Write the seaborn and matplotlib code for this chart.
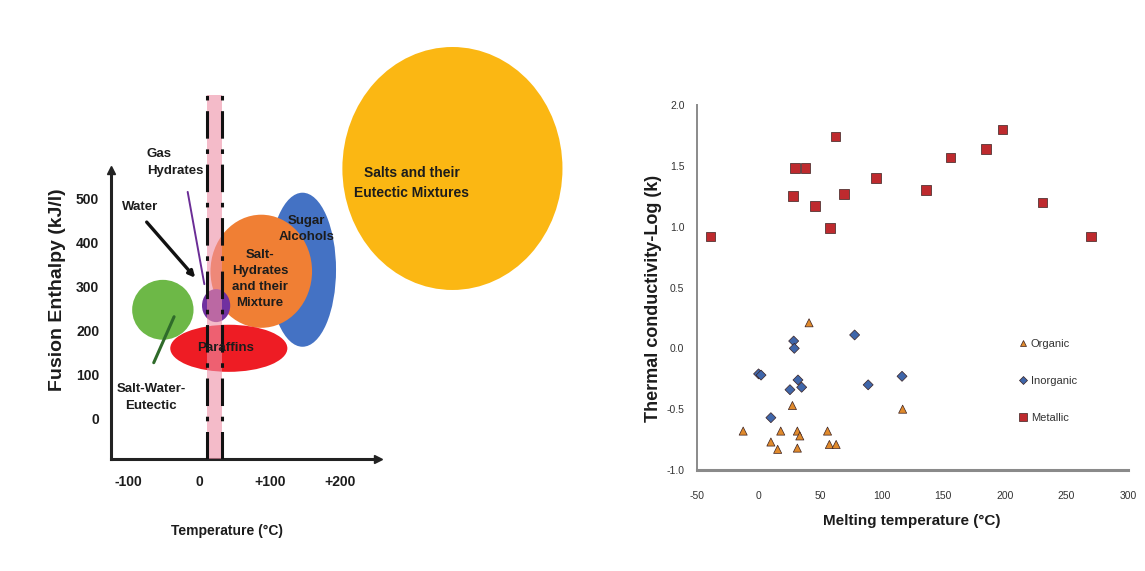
import numpy as np
import pandas as pd
import seaborn as sns
import matplotlib
matplotlib.use("Agg")
import matplotlib.pyplot as plt
from matplotlib.patches import Ellipse

# ---------------------------------------------------------------
# Left panel: PCM classes, temperature range (°C) x fusion enthalpy (kJ/l)
# ---------------------------------------------------------------
pcm_classes = ["Salts and their\nEutectic Mixtures", "Sugar\nAlcohols",
               "Salt-\nHydrates\nand their\nMixture", "Paraffins",
               "Salt-Water-\nEutectic", "Gas\nHydrates"]
pcm_temp_min = [203, 99, 16, -41, -95, 4]
pcm_temp_max = [515, 194, 160, 125, -8, 44]
pcm_enth_min = [293, 164, 207, 107, 180, 220]
pcm_enth_max = [845, 514, 464, 214, 316, 295]
pcm_colors = ["#FBB713", "#4472C4", "#F07F34", "#EE1C24", "#6DB847", "#7030A0"]

# comfort band (°C)
band_temp = [11, 32]

temp_ticks = [-100, 0, 100, 200]
temp_tick_labels = ["-100", "0", "+100", "+200"]
enth_ticks = [0, 100, 200, 300, 400, 500]

# ---------------------------------------------------------------
# Right panel: melting temperature (°C) vs log thermal conductivity
# ---------------------------------------------------------------
organic_T = [41, 27.5, 117, -12.5, 18, 10, 15.5, 31.5, 33.5, 31.5, 56, 57.5, 63]
organic_k = [0.21, -0.47, -0.50, -0.68, -0.68, -0.77, -0.83, -0.68, -0.72, -0.82, -0.68, -0.79, -0.79]
inorganic_T = [0, 2, 28.5, 29, 32, 35, 25.5, 10, 78, 89, 116.5]
inorganic_k = [-0.21, -0.22, 0.06, 0.00, -0.26, -0.32, -0.34, -0.57, 0.11, -0.30, -0.23]
metallic_T = [-39, 28, 29.5, 38, 46, 58, 62.5, 69.5, 95.5, 136, 156, 184.5, 198, 230.5, 270]
metallic_k = [0.92, 1.25, 1.48, 1.48, 1.17, 0.99, 1.74, 1.27, 1.40, 1.30, 1.57, 1.64, 1.80, 1.20, 0.92]

groups = ["Organic", "Inorganic", "Metallic"]
group_colors = {"Organic": "#E08A2C", "Inorganic": "#3F66AA", "Metallic": "#BE2A2E"}
group_markers = {"Organic": "^", "Inorganic": "D", "Metallic": "s"}
group_sizes = {"Organic": 34, "Inorganic": 26, "Metallic": 48}

df = pd.DataFrame({
    "T": organic_T + inorganic_T + metallic_T,
    "k": organic_k + inorganic_k + metallic_k,
    "Group": (["Organic"] * len(organic_T) + ["Inorganic"] * len(inorganic_T)
              + ["Metallic"] * len(metallic_T)),
})

sns.set_style("white")
plt.rcParams["font.family"] = ["Liberation Sans", "DejaVu Sans"]
plt.rcParams["axes.unicode_minus"] = False

W, H = 1145, 571
fig = plt.figure(figsize=(W / 100, H / 100), dpi=100)
fig.patch.set_facecolor("white")


def px_axes(left, right, bottom, top):
    return fig.add_axes([left / W, 1 - bottom / H, (right - left) / W, (bottom - top) / H])


# ---------------------------- left panel ----------------------------
ax1 = px_axes(111, 566, 459, 47)
ax1.set_xlim(-125, 520)
ax1.set_ylim(-91, 845)
ax1.set_facecolor("none")

for i, name in enumerate(pcm_classes):
    cx = (pcm_temp_min[i] + pcm_temp_max[i]) / 2
    cy = (pcm_enth_min[i] + pcm_enth_max[i]) / 2
    e = Ellipse((cx, cy), pcm_temp_max[i] - pcm_temp_min[i],
                pcm_enth_max[i] - pcm_enth_min[i],
                facecolor=pcm_colors[i], edgecolor="none", zorder=2 + i * 0.1)
    ax1.add_patch(e)

# comfort band with dash-dot borders
ax1.fill_betweenx([-91, 736], band_temp[0], band_temp[1], color="#EE8FA6",
                  alpha=0.6, lw=0, zorder=4)
ax1.vlines(band_temp, -91, 736, colors="#111111", linewidth=2.2,
           linestyles=[(0, (9, 3.5, 1.5, 3.5))], zorder=5)

txt = dict(fontweight="bold", color="#1c1c1c", zorder=6)
ax1.text(301, 536, pcm_classes[0], ha="center", va="center", fontsize=10, linespacing=1.6, **txt)
ax1.text(152, 432, pcm_classes[1], ha="center", va="center", fontsize=9.5, linespacing=1.5, **txt)
ax1.text(86, 318, pcm_classes[2], ha="center", va="center", fontsize=9.5, linespacing=1.45, **txt)
ax1.text(38, 162, pcm_classes[3], ha="center", va="center", fontsize=9.5, **txt)
ax1.text(-68, 48, pcm_classes[4], ha="center", va="center", fontsize=9.5, linespacing=1.55, **txt)
ax1.text(-74, 582, pcm_classes[5], ha="left", va="center", fontsize=9.5, linespacing=1.55, **txt)
ax1.text(-109, 482, "Water", ha="left", va="center", fontsize=9.5, **txt)

ax1.annotate("", xy=(-3, 316), xytext=(-77, 452),
             arrowprops=dict(arrowstyle="-|>", color="#111111", lw=2.4, mutation_scale=9),
             zorder=6)
ax1.annotate("", xy=(8, 300), xytext=(-17, 522),
             arrowprops=dict(arrowstyle="-", color="#6B2D96", lw=1.4), zorder=6)
ax1.annotate("", xy=(-34, 238), xytext=(-66, 122),
             arrowprops=dict(arrowstyle="-", color="#2F6B2A", lw=2.2), zorder=6)

for s in ["top", "right"]:
    ax1.spines[s].set_visible(False)
for s in ["left", "bottom"]:
    ax1.spines[s].set_color("#222222")
    ax1.spines[s].set_linewidth(2.2)
ax1.spines["left"].set_bounds(-91, 562)
ax1.spines["bottom"].set_bounds(-125, 250)
ax1.plot([-125], [566], marker="^", color="#222222", markersize=6, clip_on=False, zorder=7)
ax1.plot([254], [-91], marker=">", color="#222222", markersize=6, clip_on=False, zorder=7)

ax1.set_xticks(temp_ticks)
ax1.set_xticklabels(temp_tick_labels)
ax1.set_yticks(enth_ticks)
ax1.tick_params(axis="both", direction="inout", length=5, width=2.5, color="#222222",
                labelsize=10, labelcolor="#1c1c1c")
ax1.tick_params(axis="x", pad=9)
ax1.tick_params(axis="y", pad=6)
for lab in ax1.get_xticklabels() + ax1.get_yticklabels():
    lab.set_fontweight("bold")

ax1.set_xlabel("Temperature (°C)", fontsize=10, fontweight="bold", color="#1c1c1c")
ax1.xaxis.set_label_coords((227 - 111) / 455, (459 - 524) / 412)
ax1.set_ylabel("Fusion Enthalpy (kJ/l)", fontsize=14, fontweight="bold", color="#1c1c1c")
ax1.yaxis.set_label_coords((66 - 111) / 455, (459 - 290) / 412)

# ---------------------------- right panel ----------------------------
ax2 = px_axes(697, 1128, 470, 105)
sns.scatterplot(data=df, x="T", y="k", hue="Group", style="Group", size="Group",
                hue_order=groups, style_order=groups, size_order=groups,
                palette=group_colors, markers=group_markers, sizes=group_sizes,
                edgecolor="#3a2020", linewidth=0.5, ax=ax2, zorder=3, clip_on=False)
ax2.set_xlim(-50, 300)
ax2.set_ylim(-1.0, 2.0)
ax2.set_xticks(np.arange(-50, 301, 50))
ax2.set_yticks(np.arange(-1.0, 2.01, 0.5))
ax2.set_yticklabels([f"{v:.1f}" for v in np.arange(-1.0, 2.01, 0.5)])
ax2.tick_params(axis="both", length=0, labelsize=7.5, labelcolor="#333333")
ax2.tick_params(axis="x", pad=15)
ax2.tick_params(axis="y", pad=9)
for s in ["top", "right"]:
    ax2.spines[s].set_visible(False)
ax2.spines["left"].set_color("#8a8a8a")
ax2.spines["left"].set_linewidth(1.4)
ax2.spines["bottom"].set_color("#8a8a8a")
ax2.spines["bottom"].set_linewidth(2.2)

ax2.set_xlabel("Melting temperature (°C)", fontsize=11, fontweight="bold", color="#1c1c1c")
ax2.xaxis.set_label_coords(0.499, (470 - 514) / 365)
ax2.set_ylabel("Thermal conductivity-Log (k)", fontsize=13, fontweight="bold", color="#1c1c1c")
ax2.yaxis.set_label_coords((662 - 697) / 431, (470 - 298) / 365)

leg = ax2.legend(loc="center left", bbox_to_anchor=((1012 - 697) / 431, (470 - 381) / 365),
                 frameon=False, fontsize=8, labelspacing=2.4, handletextpad=0.2,
                 handlelength=1.0, borderpad=0, markerscale=0.8)
for t in leg.get_texts():
    t.set_color("#333333")

fig.savefig("out.png", dpi=100, facecolor="white")
